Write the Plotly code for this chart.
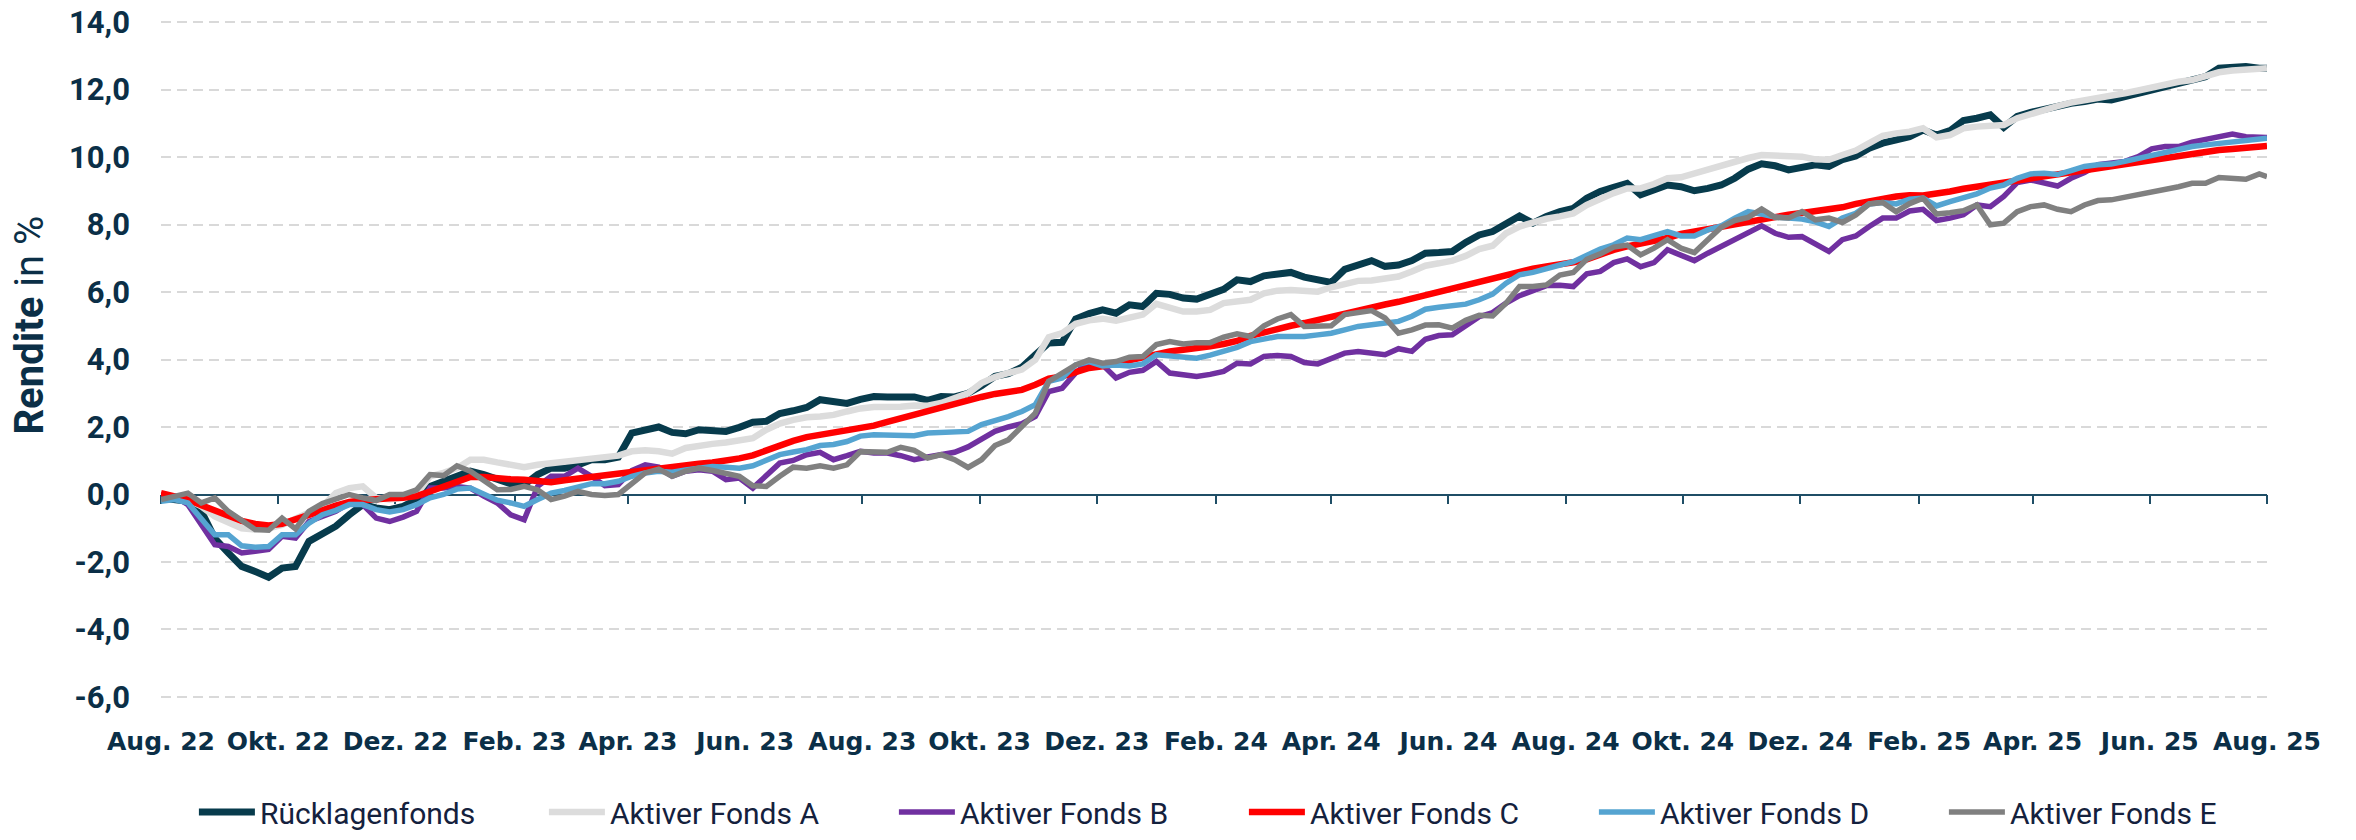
import pandas as pd
import plotly.graph_objects as go

# ---------------- data (weekly readings, Aug 2022 - Aug 2025) ----------------
dates = pd.date_range("2022-08-01", periods=157, freq="7D").append(pd.DatetimeIndex(["2025-08-01"]))

ruecklagenfonds = [
    -0.10, -0.13, -0.20, -0.50, -1.30, -1.73, -2.13, -2.28, -2.45, -2.18,
    -2.13, -1.39, -1.19, -0.94, -0.60, -0.30, -0.40, -0.45, -0.35, -0.15,
    0.24, 0.39, 0.59, 0.69, 0.59, 0.44, 0.32, 0.29, 0.59, 0.78,
    0.78, 0.88, 1.03, 1.03, 1.11, 1.82, 1.92, 2.00, 1.84, 1.80,
    1.92, 1.87, 1.87, 1.99, 2.14, 2.17, 2.40, 2.48, 2.58, 2.81,
    2.76, 2.70, 2.82, 2.90, 2.89, 2.88, 2.89, 2.79, 2.90, 2.89,
    3.00, 3.22, 3.50, 3.58, 3.77, 4.14, 4.49, 4.51, 5.20, 5.36,
    5.47, 5.37, 5.62, 5.57, 5.96, 5.93, 5.82, 5.79, 5.95, 6.08,
    6.36, 6.31, 6.48, 6.54, 6.58, 6.44, 6.38, 6.28, 6.67, 6.80,
    6.93, 6.76, 6.80, 6.93, 7.15, 7.17, 7.20, 7.47, 7.69, 7.79,
    8.02, 8.25, 8.04, 8.24, 8.38, 8.48, 8.78, 8.98, 9.10, 9.22,
    8.88, 9.03, 9.17, 9.12, 9.00, 9.07, 9.17, 9.37, 9.64, 9.80,
    9.74, 9.62, 9.72, 9.77, 9.72, 9.92, 10.03, 10.26, 10.41, 10.48,
    10.60, 10.80, 10.65, 10.78, 11.08, 11.15, 11.25, 10.88, 11.20, 11.32,
    11.42, 11.50, 11.59, 11.64, 11.72, 11.69, 11.79, 11.89, 12.01, 12.09,
    12.23, 12.31, 12.38, 12.63, 12.68, 12.68, 12.63, 12.63]

fonds_a = [
    -0.10, -0.10, -0.15, -0.35, -0.65, -0.85, -1.00, -1.04, -1.00, -0.90,
    -0.70, -0.55, -0.35, 0.04, 0.19, 0.24, -0.10, -0.15, -0.10, 0.00,
    0.54, 0.64, 0.78, 1.03, 1.03, 0.95, 0.88, 0.81, 0.88, 0.93,
    0.98, 1.03, 1.06, 1.10, 1.15, 1.28, 1.31, 1.28, 1.21, 1.38,
    1.45, 1.50, 1.54, 1.59, 1.67, 1.92, 2.10, 2.21, 2.29, 2.31,
    2.36, 2.46, 2.55, 2.59, 2.59, 2.60, 2.64, 2.63, 2.71, 2.83,
    3.00, 3.30, 3.48, 3.60, 3.70, 3.99, 4.66, 4.78, 5.06, 5.16,
    5.21, 5.15, 5.23, 5.33, 5.65, 5.52, 5.42, 5.42, 5.47, 5.67,
    5.72, 5.77, 5.96, 6.04, 6.06, 6.03, 6.01, 6.14, 6.24, 6.33,
    6.34, 6.38, 6.46, 6.61, 6.78, 6.85, 6.93, 7.07, 7.27, 7.37,
    7.74, 7.94, 8.07, 8.17, 8.24, 8.33, 8.58, 8.78, 8.93, 9.07,
    9.07, 9.20, 9.37, 9.40, 9.52, 9.62, 9.72, 9.87, 9.97, 10.06,
    10.03, 10.01, 10.01, 9.93, 9.92, 10.06, 10.19, 10.41, 10.63, 10.70,
    10.75, 10.85, 10.58, 10.65, 10.85, 10.90, 10.92, 10.95, 11.15, 11.28,
    11.40, 11.51, 11.61, 11.67, 11.74, 11.82, 11.89, 11.97, 12.07, 12.16,
    12.23, 12.28, 12.38, 12.51, 12.56, 12.58, 12.61, 12.63]

fonds_b = [
    0.00, -0.05, -0.30, -0.90, -1.49, -1.54, -1.73, -1.68, -1.63, -1.24,
    -1.29, -0.80, -0.65, -0.50, -0.25, -0.30, -0.70, -0.80, -0.67, -0.50,
    0.19, 0.19, 0.24, 0.19, -0.05, -0.25, -0.60, -0.75, 0.24, 0.54,
    0.54, 0.78, 0.54, 0.26, 0.29, 0.71, 0.88, 0.81, 0.54, 0.69,
    0.73, 0.69, 0.44, 0.49, 0.19, 0.54, 0.93, 1.01, 1.18, 1.25,
    1.03, 1.15, 1.28, 1.23, 1.23, 1.15, 1.03, 1.11, 1.18, 1.25,
    1.41, 1.62, 1.87, 2.00, 2.10, 2.31, 3.05, 3.15, 3.60, 3.94,
    3.84, 3.45, 3.62, 3.68, 3.94, 3.60, 3.55, 3.50, 3.56, 3.65,
    3.89, 3.87, 4.09, 4.12, 4.09, 3.91, 3.87, 4.04, 4.19, 4.24,
    4.19, 4.14, 4.32, 4.24, 4.60, 4.71, 4.73, 5.00, 5.27, 5.39,
    5.67, 5.89, 6.05, 6.19, 6.20, 6.16, 6.54, 6.61, 6.87, 6.98,
    6.75, 6.87, 7.25, 7.10, 6.93, 7.15, 7.35, 7.52, 7.76, 7.96,
    7.74, 7.62, 7.64, 7.40, 7.20, 7.55, 7.66, 7.94, 8.19, 8.19,
    8.40, 8.45, 8.12, 8.19, 8.29, 8.58, 8.53, 8.83, 9.24, 9.32,
    9.24, 9.14, 9.37, 9.54, 9.77, 9.82, 9.87, 10.01, 10.24, 10.31,
    10.31, 10.44, 10.51, 10.59, 10.68, 10.60, 10.60, 10.58]

fonds_c = [
    0.04, -0.05, -0.15, -0.32, -0.47, -0.65, -0.78, -0.87, -0.92, -0.87,
    -0.75, -0.62, -0.47, -0.33, -0.22, -0.17, -0.13, -0.11, -0.10, -0.05,
    0.09, 0.24, 0.39, 0.52, 0.52, 0.47, 0.45, 0.44, 0.42, 0.36,
    0.42, 0.47, 0.52, 0.57, 0.61, 0.68, 0.75, 0.79, 0.83, 0.87,
    0.91, 0.95, 1.00, 1.07, 1.16, 1.31, 1.45, 1.59, 1.70, 1.77,
    1.82, 1.92, 2.00, 2.04, 2.15, 2.26, 2.36, 2.49, 2.59, 2.69,
    2.78, 2.89, 2.98, 3.04, 3.10, 3.25, 3.43, 3.50, 3.62, 3.75,
    3.80, 3.89, 3.97, 4.07, 4.17, 4.24, 4.29, 4.33, 4.39, 4.46,
    4.55, 4.70, 4.81, 4.91, 5.00, 5.08, 5.18, 5.28, 5.37, 5.47,
    5.55, 5.63, 5.71, 5.81, 5.92, 6.01, 6.10, 6.20, 6.31, 6.41,
    6.52, 6.60, 6.69, 6.76, 6.81, 6.88, 6.97, 7.13, 7.25, 7.35,
    7.43, 7.50, 7.60, 7.72, 7.79, 7.87, 7.95, 8.03, 8.11, 8.18,
    8.24, 8.29, 8.34, 8.39, 8.44, 8.51, 8.61, 8.70, 8.76, 8.83,
    8.87, 8.86, 8.91, 8.98, 9.06, 9.12, 9.19, 9.24, 9.32, 9.37,
    9.44, 9.50, 9.54, 9.62, 9.67, 9.72, 9.77, 9.84, 9.91, 9.98,
    10.05, 10.11, 10.17, 10.21, 10.24, 10.28, 10.32, 10.33]

fonds_d = [
    -0.20, -0.15, -0.25, -0.75, -1.19, -1.19, -1.52, -1.56, -1.54, -1.19,
    -1.19, -0.85, -0.60, -0.47, -0.30, -0.30, -0.45, -0.52, -0.45, -0.30,
    -0.10, 0.00, 0.16, 0.19, 0.00, -0.17, -0.25, -0.35, -0.15, 0.04,
    0.12, 0.22, 0.32, 0.32, 0.39, 0.54, 0.64, 0.69, 0.66, 0.73,
    0.80, 0.83, 0.81, 0.78, 0.85, 1.03, 1.18, 1.26, 1.33, 1.45,
    1.48, 1.57, 1.73, 1.77, 1.75, 1.72, 1.74, 1.82, 1.84, 1.84,
    1.87, 2.07, 2.17, 2.31, 2.46, 2.66, 3.35, 3.45, 3.84, 3.94,
    3.81, 3.84, 3.81, 3.87, 4.14, 4.11, 4.04, 4.04, 4.13, 4.24,
    4.36, 4.53, 4.60, 4.68, 4.68, 4.68, 4.73, 4.78, 4.88, 4.98,
    5.03, 5.08, 5.13, 5.28, 5.49, 5.55, 5.59, 5.64, 5.77, 5.94,
    6.26, 6.51, 6.58, 6.71, 6.80, 6.90, 7.10, 7.27, 7.40, 7.60,
    7.55, 7.69, 7.79, 7.66, 7.66, 7.84, 7.96, 8.19, 8.38, 8.31,
    8.22, 8.19, 8.16, 8.08, 7.94, 8.19, 8.33, 8.61, 8.65, 8.61,
    8.75, 8.78, 8.55, 8.68, 8.78, 8.91, 9.08, 9.17, 9.37, 9.50,
    9.52, 9.48, 9.60, 9.72, 9.77, 9.79, 9.87, 9.96, 10.06, 10.16,
    10.23, 10.31, 10.36, 10.41, 10.45, 10.49, 10.53, 10.56]

fonds_e = [
    -0.15, -0.04, 0.04, -0.25, -0.10, -0.50, -0.75, -1.04, -1.06, -0.70,
    -1.02, -0.50, -0.27, -0.15, 0.00, -0.10, -0.18, 0.00, 0.00, 0.14,
    0.59, 0.56, 0.85, 0.69, 0.39, 0.14, 0.15, 0.24, 0.14, -0.15,
    -0.05, 0.09, 0.00, -0.03, 0.00, 0.34, 0.64, 0.75, 0.54, 0.69,
    0.78, 0.71, 0.61, 0.54, 0.26, 0.24, 0.54, 0.81, 0.78, 0.85,
    0.78, 0.88, 1.27, 1.28, 1.25, 1.40, 1.31, 1.08, 1.18, 1.03,
    0.80, 1.03, 1.45, 1.62, 1.99, 2.41, 3.35, 3.58, 3.84, 3.99,
    3.89, 3.94, 4.07, 4.09, 4.44, 4.53, 4.46, 4.50, 4.50, 4.66,
    4.76, 4.68, 5.00, 5.20, 5.33, 4.98, 4.98, 5.00, 5.33, 5.40,
    5.45, 5.23, 4.78, 4.88, 5.02, 5.03, 4.93, 5.16, 5.31, 5.29,
    5.67, 6.16, 6.16, 6.21, 6.50, 6.58, 6.97, 7.13, 7.33, 7.39,
    7.10, 7.30, 7.55, 7.30, 7.17, 7.55, 7.92, 8.12, 8.21, 8.46,
    8.21, 8.19, 8.38, 8.14, 8.19, 8.06, 8.28, 8.61, 8.65, 8.38,
    8.62, 8.78, 8.31, 8.35, 8.41, 8.58, 7.99, 8.04, 8.38, 8.53,
    8.58, 8.45, 8.38, 8.58, 8.71, 8.73, 8.80, 8.88, 8.98, 9.05,
    9.12, 9.22, 9.22, 9.39, 9.37, 9.34, 9.50, 9.42]

series_names = ["Rücklagenfonds", "Aktiver Fonds A", "Aktiver Fonds B",
                "Aktiver Fonds C", "Aktiver Fonds D", "Aktiver Fonds E"]
series_values = [ruecklagenfonds, fonds_a, fonds_b, fonds_c, fonds_d, fonds_e]
series_colors = ["#073b4c", "#dcdcdc", "#7030a0", "#ff0000", "#55a4d1", "#808080"]
series_widths = [7, 6.5, 5.5, 6.5, 5.5, 5.5]

tick_dates = pd.date_range("2022-08-01", "2025-08-01", freq="2MS")
tick_labels = ["Aug. 22", "Okt. 22", "Dez. 22", "Feb. 23", "Apr. 23", "Jun. 23",
               "Aug. 23", "Okt. 23", "Dez. 23", "Feb. 24", "Apr. 24", "Jun. 24",
               "Aug. 24", "Okt. 24", "Dez. 24", "Feb. 25", "Apr. 25", "Jun. 25",
               "Aug. 25"]

y_ticks = [-6, -4, -2, 0, 2, 4, 6, 8, 10, 12, 14]
y_tick_labels = [f"{v:.1f}".replace(".", ",") for v in y_ticks]

# ---------------- figure ----------------
NAVY = "#0b2f47"
fig = go.Figure()

for name, vals, col, w in zip(series_names, series_values, series_colors, series_widths):
    fig.add_trace(go.Scatter(
        x=dates.strftime("%Y-%m-%d"), y=vals, name=name, mode="lines",
        line=dict(color=col, width=w), hoverinfo="skip"))

# dummy trace for the tick axis drawn at y = 0
fig.add_trace(go.Scatter(x=[], y=[], xaxis="x2", yaxis="y", showlegend=False, hoverinfo="skip"))

y_min, y_max = -6.03, 14.03
x_range = ["2022-08-01", "2025-08-01"]

fig.update_layout(
    width=2356, height=840,
    margin=dict(l=161, r=89, t=21, b=142, autoexpand=False),
    paper_bgcolor="white", plot_bgcolor="white",
    showlegend=True,
    legend=dict(orientation="h", xref="container", x=0.0823, xanchor="left",
                y=-0.2068, yanchor="bottom", itemwidth=56,
                entrywidth=279, entrywidthmode="pixels",
                font=dict(family="Roboto", size=30, color="#14213d"),
                bgcolor="rgba(0,0,0,0)"),
    xaxis=dict(type="date", range=x_range, tickvals=tick_dates, ticktext=tick_labels,
               tickangle=0, showgrid=False, showline=False, zeroline=False, ticks="",
               ticklabelstandoff=26,
               tickfont=dict(family="DejaVu Sans", size=25, color=NAVY, weight="bold")),
    xaxis2=dict(type="date", range=x_range, overlaying="x", anchor="free",
                position=(0 - y_min) / (y_max - y_min), tickvals=tick_dates,
                showticklabels=False, ticks="outside", ticklen=9, tickwidth=2,
                tickcolor="#1f4e66", showgrid=False, showline=False, zeroline=False,
                layer="below traces"),
    yaxis=dict(range=[y_min, y_max], tickvals=y_ticks, ticktext=y_tick_labels,
               showgrid=True, gridcolor="#d9d9d9", gridwidth=2, griddash="10px,6px",
               zeroline=True, zerolinecolor="#1f4e66", zerolinewidth=2,
               showline=False, ticks="", ticklabelstandoff=30,
               tickfont=dict(family="Roboto", size=31, color=NAVY, weight="bold")),
    annotations=[dict(text="<b>Rendite</b> in %", textangle=-90, showarrow=False,
                      xref="paper", yref="paper", x=(28.5 - 161) / 2106, y=(698 - 325) / 677,
                      xanchor="center", yanchor="middle",
                      font=dict(family="Roboto", size=40, color=NAVY))],
)

fig.write_html("out.html", config={"displayModeBar": False},
               post_script="document.body.style.margin='0';")
